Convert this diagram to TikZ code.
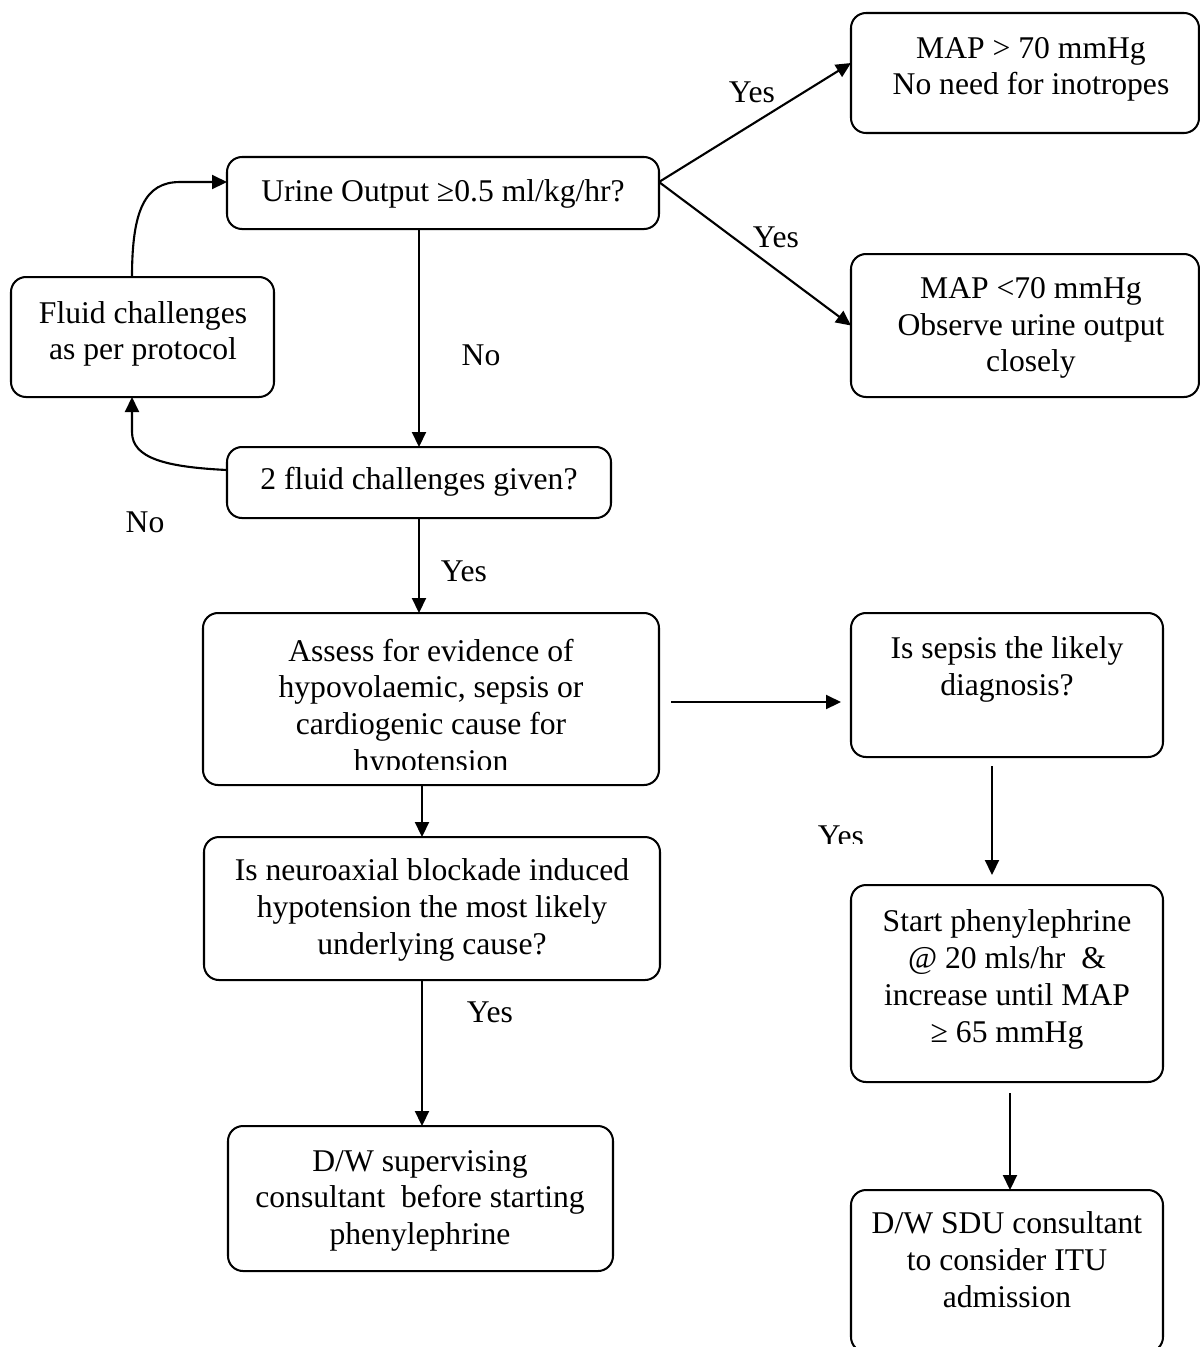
\documentclass[tikz,border=0pt]{standalone}
\usepackage{fontspec}
\setmainfont{Liberation Serif}
\usetikzlibrary{arrows.meta,calc}
\newcommand\mybox[5]{\node[box, minimum width={(#4-#2)*0.02cm}, minimum height={(#5-#3)*0.02cm}] (#1) at ({(#2+#4)/2},{(#3+#5)/2}) {};}
\begin{document}
\begin{tikzpicture}[x=0.02cm,y=-0.02cm,
  box/.style={draw, line width=1.15pt, rounded corners=0.3cm, inner sep=0pt, outer sep=0pt},
  txt/.style={font=\fontsize{18}{20.9}\selectfont, align=center, inner sep=0pt,
    execute at begin node=\strut, execute at end node=\strut},
  conn/.style={line width=1.2pt, -{Triangle[length=0.3cm,width=0.28cm]}},
]
\useasboundingbox (0,0) rectangle (1200,1347);

% boxes
\mybox{urine}{227}{157}{659}{229}
\mybox{fluid}{11}{277}{274}{397}
\mybox{twofluid}{227}{447}{611}{518}
\mybox{mapone}{851}{13}{1199}{133}
\mybox{maptwo}{851}{254}{1199}{397}
\mybox{assess}{203}{613}{659}{785}
\mybox{sepsis}{851}{613}{1163}{757}
\mybox{neuro}{204}{837}{660}{980}
\mybox{start}{851}{885}{1163}{1082}
\mybox{dwsup}{228}{1126}{613}{1271}
\mybox{sdu}{851}{1190}{1163}{1352}

% texts
\node[txt] (turine) at (443,194.5) {Urine Output ≥0.5 ml/kg/hr?};
\node[txt] (tfluid) at (143,336) {Fluid challenges\\as per protocol};
\node[txt] (ttwo) at (419,482.5) {2 fluid challenges given?};
\node[txt] (tmapone) at (1031,71.5) {MAP > 70 mmHg\\No need for inotropes};
\node[txt] (tmaptwo) at (1031,330) {MAP <70 mmHg\\Observe urine output\\closely};
\begin{scope}
  \clip (203,600) rectangle (659,769);
  \node[txt] (tassess) at (431,710.5) {Assess for evidence of\\hypovolaemic, sepsis or\\cardiogenic cause for\\hypotension};
\end{scope}
\node[txt] (tsepsis) at (1007,671.5) {Is sepsis the likely\\diagnosis?};
\node[txt] (tneuro) at (432,912) {Is neuroaxial blockade induced\\hypotension the most likely\\underlying cause?};
\node[txt] (tstart) at (1007,981.5) {Start phenylephrine\\@ 20 mls/hr\ \ \&\\increase until MAP\\≥ 65 mmHg};
\node[txt] (tdwsup) at (420,1203) {D/W supervising\\consultant\ \ before starting\\phenylephrine};
\node[txt] (tsdu) at (1007,1265) {D/W SDU consultant\\to consider ITU\\admission};

% connectors
\coordinate (uout) at ($(urine.east)+(0,-11)$);
\draw[conn] (uout) -- ($(mapone.west)+(0,-10)$);
\draw[conn] (uout) -- (maptwo.west);
\node[txt] (yesa) at (752,95) {Yes};
\node[txt] (yesb) at (776,240) {Yes};

\draw[conn] (twofluid.north |- urine.south) -- (twofluid.north);
\node[txt] (noa) at (481,358) {No};

\draw[conn] ($(twofluid.west)+(0,-12.5)$) .. controls (165,467) and (132,458) .. (132,432) -- ($(fluid.south)+(-10.5,0)$);
\node[txt] (nob) at (145,525) {No};

\draw[conn] ($(fluid.north)+(-10.5,0)$) .. controls (132,210) and (145,182) .. (180,182) -- ($(urine.west)+(0,-11)$);

\draw[conn] (twofluid.south) -- (twofluid.south |- assess.north);
\node[txt] (yesc) at (464,574) {Yes};

\coordinate (asout) at ($(assess.east)+(12,3)$);
\draw[conn] (asout) -- ($(sepsis.west |- asout)+(-10,0)$);

\coordinate (an) at ($(assess.south)+(-9,0)$);
\draw[conn] (an) -- (an |- neuro.north);

\coordinate (nd) at ($(neuro.south)+(-10,0)$);
\draw[conn] (nd) -- (nd |- dwsup.north);
\node[txt] (yesd) at (490,1015) {Yes};

\coordinate (ss) at ($(sepsis.south)+(-15,9)$);
\draw[conn] (ss) -- ($(ss |- start.north)+(0,-10)$);
\begin{scope}
  \clip (780,800) rectangle (900,843);
  \node[txt] (yese) at (841,839) {Yes};
\end{scope}

\coordinate (sd) at ($(start.south)+(3,11)$);
\draw[conn] (sd) -- (sd |- sdu.north);
\end{tikzpicture}
\end{document}
